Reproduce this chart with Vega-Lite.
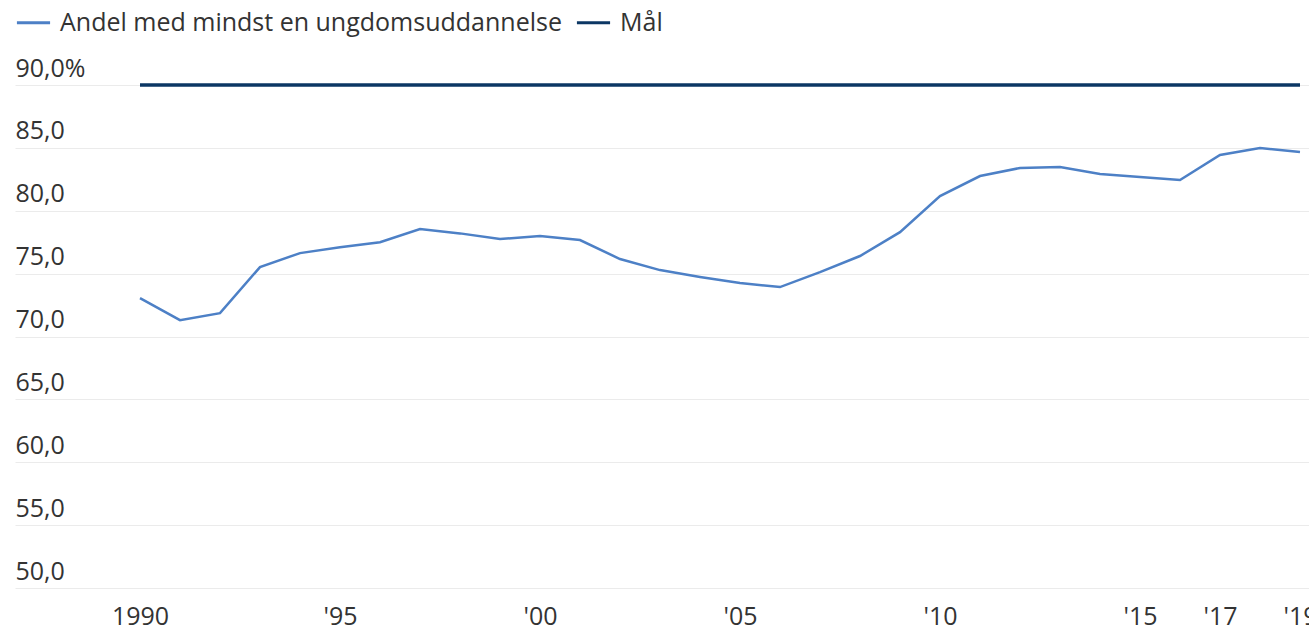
{
  "$schema": "https://vega.github.io/schema/vega-lite/v6.json",
  "width": 1294,
  "height": 503,
  "autosize": "none",
  "padding": {"left": 15, "top": 85, "right": 0, "bottom": 47},
  "background": "white",
  "config": {
    "view": {"stroke": null},
    "font": "Open Sans"
  },
  "data": {
    "values": [
      {"year": 1990, "value": 73.05, "series": "Andel med mindst en ungdomsuddannelse"},
      {"year": 1991, "value": 71.3, "series": "Andel med mindst en ungdomsuddannelse"},
      {"year": 1992, "value": 71.86, "series": "Andel med mindst en ungdomsuddannelse"},
      {"year": 1993, "value": 75.52, "series": "Andel med mindst en ungdomsuddannelse"},
      {"year": 1994, "value": 76.63, "series": "Andel med mindst en ungdomsuddannelse"},
      {"year": 1995, "value": 77.1, "series": "Andel med mindst en ungdomsuddannelse"},
      {"year": 1996, "value": 77.5, "series": "Andel med mindst en ungdomsuddannelse"},
      {"year": 1997, "value": 78.54, "series": "Andel med mindst en ungdomsuddannelse"},
      {"year": 1998, "value": 78.2, "series": "Andel med mindst en ungdomsuddannelse"},
      {"year": 1999, "value": 77.75, "series": "Andel med mindst en ungdomsuddannelse"},
      {"year": 2000, "value": 77.99, "series": "Andel med mindst en ungdomsuddannelse"},
      {"year": 2001, "value": 77.67, "series": "Andel med mindst en ungdomsuddannelse"},
      {"year": 2002, "value": 76.16, "series": "Andel med mindst en ungdomsuddannelse"},
      {"year": 2003, "value": 75.28, "series": "Andel med mindst en ungdomsuddannelse"},
      {"year": 2004, "value": 74.73, "series": "Andel med mindst en ungdomsuddannelse"},
      {"year": 2005, "value": 74.25, "series": "Andel med mindst en ungdomsuddannelse"},
      {"year": 2006, "value": 73.93, "series": "Andel med mindst en ungdomsuddannelse"},
      {"year": 2007, "value": 75.12, "series": "Andel med mindst en ungdomsuddannelse"},
      {"year": 2008, "value": 76.4, "series": "Andel med mindst en ungdomsuddannelse"},
      {"year": 2009, "value": 78.3, "series": "Andel med mindst en ungdomsuddannelse"},
      {"year": 2010, "value": 81.17, "series": "Andel med mindst en ungdomsuddannelse"},
      {"year": 2011, "value": 82.76, "series": "Andel med mindst en ungdomsuddannelse"},
      {"year": 2012, "value": 83.4, "series": "Andel med mindst en ungdomsuddannelse"},
      {"year": 2013, "value": 83.48, "series": "Andel med mindst en ungdomsuddannelse"},
      {"year": 2014, "value": 82.92, "series": "Andel med mindst en ungdomsuddannelse"},
      {"year": 2015, "value": 82.68, "series": "Andel med mindst en ungdomsuddannelse"},
      {"year": 2016, "value": 82.44, "series": "Andel med mindst en ungdomsuddannelse"},
      {"year": 2017, "value": 84.43, "series": "Andel med mindst en ungdomsuddannelse"},
      {"year": 2018, "value": 84.99, "series": "Andel med mindst en ungdomsuddannelse"},
      {"year": 2019, "value": 84.67, "series": "Andel med mindst en ungdomsuddannelse"},
      {"year": 1990, "value": 90, "series": "Mål"},
      {"year": 1991, "value": 90, "series": "Mål"},
      {"year": 1992, "value": 90, "series": "Mål"},
      {"year": 1993, "value": 90, "series": "Mål"},
      {"year": 1994, "value": 90, "series": "Mål"},
      {"year": 1995, "value": 90, "series": "Mål"},
      {"year": 1996, "value": 90, "series": "Mål"},
      {"year": 1997, "value": 90, "series": "Mål"},
      {"year": 1998, "value": 90, "series": "Mål"},
      {"year": 1999, "value": 90, "series": "Mål"},
      {"year": 2000, "value": 90, "series": "Mål"},
      {"year": 2001, "value": 90, "series": "Mål"},
      {"year": 2002, "value": 90, "series": "Mål"},
      {"year": 2003, "value": 90, "series": "Mål"},
      {"year": 2004, "value": 90, "series": "Mål"},
      {"year": 2005, "value": 90, "series": "Mål"},
      {"year": 2006, "value": 90, "series": "Mål"},
      {"year": 2007, "value": 90, "series": "Mål"},
      {"year": 2008, "value": 90, "series": "Mål"},
      {"year": 2009, "value": 90, "series": "Mål"},
      {"year": 2010, "value": 90, "series": "Mål"},
      {"year": 2011, "value": 90, "series": "Mål"},
      {"year": 2012, "value": 90, "series": "Mål"},
      {"year": 2013, "value": 90, "series": "Mål"},
      {"year": 2014, "value": 90, "series": "Mål"},
      {"year": 2015, "value": 90, "series": "Mål"},
      {"year": 2016, "value": 90, "series": "Mål"},
      {"year": 2017, "value": 90, "series": "Mål"},
      {"year": 2018, "value": 90, "series": "Mål"},
      {"year": 2019, "value": 90, "series": "Mål"}
    ]
  },
  "encoding": {
    "x": {
      "field": "year",
      "type": "quantitative",
      "scale": {"domain": [1986.875, 2019.225], "nice": false, "zero": false},
      "axis": {
        "title": null,
        "values": [1990, 1995, 2000, 2005, 2010, 2015, 2017, 2019],
        "labelExpr": "datum.value == 1990 ? '1990' : \"'\" + substring(toString(datum.value), 2, 4)",
        "grid": false,
        "domain": false,
        "ticks": false,
        "tickSize": 0,
        "labelPadding": 16,
        "labelFontSize": 25,
        "labelColor": "#333333",
        "labelFont": "Open Sans",
        "labelFlush": false,
        "labelOverlap": false
      }
    },
    "y": {
      "field": "value",
      "type": "quantitative",
      "scale": {"domain": [50, 90], "nice": false, "zero": false},
      "axis": {
        "title": null,
        "values": [50, 55, 60, 65, 70, 75, 80, 85, 90],
        "labelExpr": "datum.value == 90 ? '90,0%' : replace(format(datum.value, '.1f'), '.', ',')",
        "grid": true,
        "gridColor": "#ebebeb",
        "gridWidth": 1,
        "domain": false,
        "ticks": false,
        "tickSize": 0,
        "labelAlign": "left",
        "labelBaseline": "middle",
        "labelPadding": 0,
        "labelOffset": -17,
        "labelFontSize": 25,
        "labelColor": "#333333",
        "labelFont": "Open Sans"
      }
    },
    "color": {
      "field": "series",
      "type": "nominal",
      "scale": {
        "domain": ["Andel med mindst en ungdomsuddannelse", "Mål"],
        "range": ["#4d80c6", "#0c3764"]
      },
      "legend": {
        "title": null,
        "orient": "top",
        "direction": "horizontal",
        "offset": 42,
        "symbolType": "stroke",
        "symbolSize": 1100,
        "symbolStrokeWidth": 3,
        "labelFontSize": 25,
        "labelColor": "#333333",
        "labelFont": "Open Sans",
        "labelLimit": 700,
        "columnPadding": 8,
        "labelOffset": 8,
        "padding": 0
      }
    }
  },
  "layer": [
    {
      "transform": [{"filter": "datum.series == 'Andel med mindst en ungdomsuddannelse'"}],
      "mark": {"type": "line", "strokeWidth": 2.5}
    },
    {
      "transform": [{"filter": "datum.series == 'Mål'"}],
      "mark": {"type": "line", "strokeWidth": 3.5}
    }
  ]
}
